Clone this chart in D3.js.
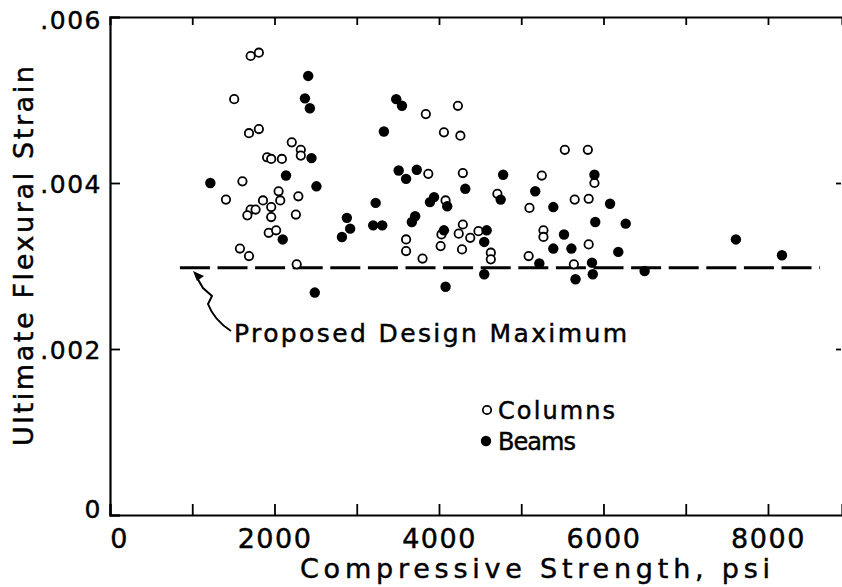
<!DOCTYPE html>
<html>
<head>
<meta charset="utf-8">
<script src="https://cdn.jsdelivr.net/npm/d3@7"></script>
<style>
  html, body { margin: 0; padding: 0; background: #fff; }
  svg { display: block; }
  text { font-family: "DejaVu Sans", sans-serif; fill: #000; stroke: #000; stroke-width: 0.45px; }
</style>
</head>
<body>
<svg id="chart" width="842" height="587"></svg>
<script>
// ---- data ----
const xTicks = [0, 1000, 2000, 3000, 4000, 5000, 6000, 7000, 8000];
const xTickLabels = ["0", "", "2000", "", "4000", "", "6000", "", "8000"];
const yTicks = [0, 0.002, 0.004, 0.006];
const yTickLabels = ["0", ".002", ".004", ".006"];

const columnsPsi = [1710,1810,1510,1690,1810,2210,2320,2320,1910,1960,2090,1610,1410,2050,2070,1860,2290,1710,1770,1670,1960,1960,2260,1930,2020,1580,1690,2270,
  3840,4230,4060,4260,3870,4290,4080,4710,5100,3600,3600,3800,4290,4240,4030,4020,4280,4380,4480,4630,4630,5090,
  5530,5810,5250,5890,5650,5820,5270,5270,5820,5640];
const columnsStrain = [0.00553,0.00557,0.00501,0.00460,0.00465,0.00449,0.00440,0.00433,0.00431,0.00429,0.00429,0.00402,0.00380,0.00390,0.00379,0.00379,0.00384,0.00368,0.00368,0.00361,0.00371,0.00359,0.00362,0.00340,0.00343,0.00321,0.00312,0.00302,
  0.00483,0.00493,0.00461,0.00457,0.00411,0.00412,0.00379,0.00387,0.00370,0.00332,0.00318,0.00309,0.00350,0.00339,0.00338,0.00324,0.00320,0.00334,0.00342,0.00316,0.00308,0.00312,
  0.00440,0.00440,0.00409,0.00400,0.00380,0.00381,0.00343,0.00335,0.00326,0.00302];

const beamsPsi = [2410,2370,2430,2450,2140,1220,2510,2100,2490,2880,2820,2920,
  3480,3550,3330,3510,3600,3730,4320,4780,5170,3230,3200,3310,3890,3940,4100,4750,3670,3710,4060,4580,4550,4550,4080,
  5220,5890,5390,6080,5900,6270,5520,5390,5610,6180,5860,5870,5660,6500,7610,8170];
const beamsStrain = [0.00529,0.00502,0.00490,0.00430,0.00409,0.00400,0.00396,0.00332,0.00268,0.00358,0.00335,0.00345,
  0.00501,0.00493,0.00462,0.00415,0.00405,0.00416,0.00393,0.00410,0.00390,0.00376,0.00349,0.00349,0.00377,0.00383,0.00372,0.00380,0.00353,0.00360,0.00343,0.00343,0.00329,0.00290,0.00275,
  0.00303,0.00410,0.00371,0.00375,0.00353,0.00351,0.00338,0.00321,0.00321,0.00317,0.00304,0.00290,0.00284,0.00294,0.00332,0.00313];

const designMax = 0.00298;
const designMaxRange = [850, 8630];
const designLabel = "Proposed Design Maximum";
const legendLabels = ["Columns", "Beams"];
const xTitle = "Compressive Strength, psi";
const yTitle = "Ultimate Flexural Strain";

// ---- drawing ----
const svg = d3.select("#chart");
const x = d3.scaleLinear().domain([0, 8900]).range([110, 842]);
const y = d3.scaleLinear().domain([0, 0.006]).range([515, 17]);

// dashed design line
svg.append("line")
  .attr("x1", x(designMaxRange[0])).attr("x2", x(designMaxRange[1]))
  .attr("y1", y(designMax)).attr("y2", y(designMax))
  .attr("stroke", "#000").attr("stroke-width", 3)
  .attr("stroke-dasharray", "30,7.6");

// axes
const gBottom = svg.append("g").attr("transform", `translate(0,${y(0)})`)
  .call(d3.axisBottom(x).tickValues(xTicks).tickSize(-11).tickPadding(0).tickFormat((d, i) => xTickLabels[i]));
const gTop = svg.append("g").attr("transform", `translate(0,${y(0.006)})`)
  .call(d3.axisTop(x).tickValues(xTicks.slice(1)).tickSize(-8).tickFormat(""));
const gLeft = svg.append("g").attr("transform", `translate(${x(0)},0)`)
  .call(d3.axisLeft(y).tickValues(yTicks).tickSize(-10).tickPadding(0).tickFormat((d, i) => yTickLabels[i]));
const gRight = svg.append("g").attr("transform", `translate(${x(8900) - 1},0)`)
  .call(d3.axisRight(y).tickValues([0.002, 0.004]).tickSize(-5).tickFormat(""));

[gBottom, gTop, gLeft, gRight].forEach(g => {
  g.select(".domain").attr("stroke", "#000").attr("stroke-width", 2.2);
  g.selectAll(".tick line").attr("stroke", "#000").attr("stroke-width", 1.8);
});
gRight.select(".domain").remove();

gBottom.selectAll(".tick text")
  .attr("font-size", 27).attr("letter-spacing", 1.5)
  .attr("y", 33).attr("dy", 0)
  .attr("dx", d => d === 0 ? 9 : 0);

gLeft.selectAll(".tick text")
  .attr("font-size", 25).attr("letter-spacing", 1.5)
  .attr("x", -8).attr("dy", "0.36em")
  .attr("transform", d => d === 0 ? "translate(0,-7)" : d === 0.006 ? "translate(0,2)" : null);

// axis titles
svg.append("text")
  .attr("x", 535).attr("y", 578)
  .attr("text-anchor", "middle")
  .attr("font-size", 27)
  .attr("textLength", 470).attr("lengthAdjust", "spacing")
  .text(xTitle);

svg.append("text")
  .attr("transform", "translate(33,256) rotate(-90)")
  .attr("text-anchor", "middle")
  .attr("font-size", 27)
  .attr("textLength", 380).attr("lengthAdjust", "spacing")
  .text(yTitle);

// points
svg.append("g").selectAll("circle")
  .data(columnsPsi.map((p, i) => [p, columnsStrain[i]]))
  .join("circle")
  .attr("cx", d => x(d[0])).attr("cy", d => y(d[1]))
  .attr("r", 4.2)
  .attr("fill", "#fff").attr("stroke", "#000").attr("stroke-width", 1.8);

svg.append("g").selectAll("circle")
  .data(beamsPsi.map((p, i) => [p, beamsStrain[i]]))
  .join("circle")
  .attr("cx", d => x(d[0])).attr("cy", d => y(d[1]))
  .attr("r", 5.2)
  .attr("fill", "#000");

// annotation
svg.append("text")
  .attr("x", 234).attr("y", 342)
  .attr("font-size", 25)
  .attr("textLength", 393).attr("lengthAdjust", "spacing")
  .text(designLabel);

svg.append("path")
  .attr("d", "M231,331 Q214,320 208,304 L212,296 L203,288 L196,276")
  .attr("fill", "none").attr("stroke", "#000").attr("stroke-width", 2);
svg.append("path")
  .attr("d", "M193,271 L204,276 L197,281 Z")
  .attr("fill", "#000");

// legend
const leg = svg.append("g");
leg.append("circle").attr("cx", 487).attr("cy", 410).attr("r", 4.2)
  .attr("fill", "#fff").attr("stroke", "#000").attr("stroke-width", 1.8);
leg.append("circle").attr("cx", 486).attr("cy", 441).attr("r", 5.2).attr("fill", "#000");
leg.append("text").attr("x", 498).attr("y", 419).attr("font-size", 24)
  .attr("textLength", 117).attr("lengthAdjust", "spacing").text(legendLabels[0]);
leg.append("text").attr("x", 498).attr("y", 450).attr("font-size", 24)
  .attr("textLength", 78).attr("lengthAdjust", "spacing").text(legendLabels[1]);
</script>
</body>
</html>
